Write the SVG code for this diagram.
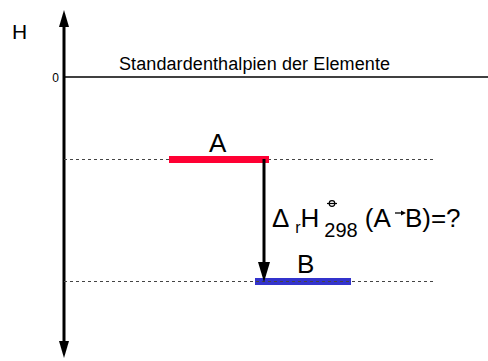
<svg xmlns="http://www.w3.org/2000/svg" width="488" height="361" viewBox="0 0 488 361">
<style>
  text { font-family: "Liberation Sans", Arial, sans-serif; fill: #000; }
  .dash { stroke: #444; stroke-width: 1; stroke-dasharray: 3 3; fill: none; }
  .big { font-size: 26px; }
</style>
<rect width="488" height="361" fill="#fff"/>
<g id="axis">
  <line x1="64" y1="22" x2="64" y2="346" stroke="#000" stroke-width="3"/>
  <polygon points="64,10 59,27 69,27" fill="#000"/>
  <polygon points="64,358 59,341 69,341" fill="#000"/>
  <text x="12" y="39" font-size="21">H</text>
  <text x="59" y="82" font-size="12" text-anchor="end">0</text>
</g>
<g id="elements">
  <line x1="64" y1="77" x2="488" y2="77" stroke="#000" stroke-width="1.5"/>
  <text x="119" y="70" font-size="18" textLength="271">Standardenthalpien der Elemente</text>
</g>
<g id="levelA">
  <line class="dash" x1="64" y1="159.5" x2="433" y2="159.5"/>
  <rect x="169" y="156" width="100" height="7" fill="#ff0033"/>
  <text class="big" x="209" y="152">A</text>
</g>
<g id="levelB">
  <rect x="255" y="278" width="96" height="7" fill="#3333cc"/>
  <line class="dash" x1="64" y1="281.5" x2="433" y2="281.5"/>
  <text class="big" x="297" y="273">B</text>
</g>
<g id="connectors">
  <line x1="264" y1="159" x2="264" y2="264" stroke="#000" stroke-width="3"/>
  <polygon points="258,262 270,262 264,282" fill="#000"/>
</g>
<g id="label">
  <text class="big" x="272" y="227">Δ <tspan font-size="16" dy="6">r</tspan><tspan dy="-6">H</tspan><tspan font-size="20" dx="5" dy="10">298</tspan><tspan dy="-10"> (A</tspan><tspan dx="14">B)=?</tspan></text>
  <circle cx="332" cy="203.5" r="2.8" fill="none" stroke="#000" stroke-width="1.2"/>
  <line x1="327" y1="203.5" x2="337" y2="203.5" stroke="#000" stroke-width="1.2"/>
  <line x1="395" y1="213" x2="402" y2="213" stroke="#000" stroke-width="1.3"/>
  <polygon points="406,213 401,210.5 401,215.5" fill="#000"/>
</g>
</svg>
